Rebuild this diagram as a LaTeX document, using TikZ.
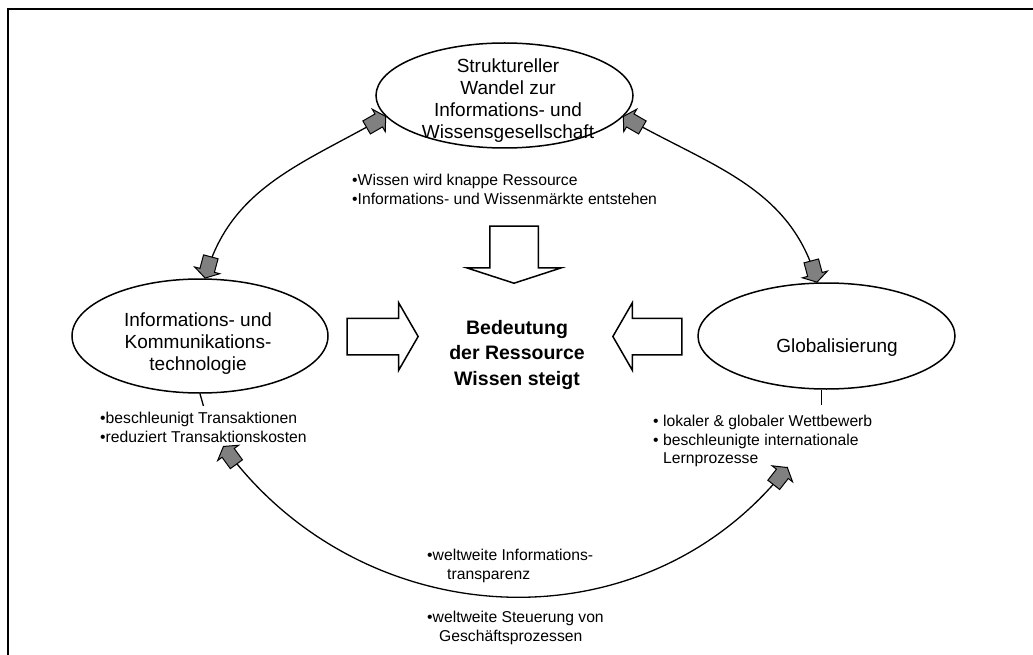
\documentclass[tikz,border=0pt]{standalone}
\usepackage{fontspec}
\setmainfont{Liberation Sans}
\usetikzlibrary{shapes.geometric,shapes.arrows,decorations.markings}
\definecolor{headgray}{gray}{0.5}

% small grey block arrow head, drawn along the path
\newcommand\grayhead{\filldraw[fill=headgray,draw=black,line width=1pt,line join=miter]
  (-22,-7.5) -- (-8,-7.5) -- (-8,-13) -- (0,0) -- (-8,13) -- (-8,7.5) -- (-22,7.5) -- cycle;}

\begin{document}
\begin{tikzpicture}[x=1pt,y=1pt,
 ell/.style={draw,ellipse,line width=1.5pt,inner sep=0pt},
 elltxt/.style={align=center,inner sep=0pt,font=\fontsize{19}{21.7}\selectfont},
 note/.style={align=left,inner sep=0pt,anchor=north west,font=\fontsize{15.7}{18.5}\selectfont},
 bigarrow/.style={draw,single arrow,line width=1.5pt,inner xsep=0pt,anchor=tip},
 link/.style={line width=1.3pt,postaction={decorate},decoration={markings,
   mark=at position 0 with {\begin{scope}[xscale=-1]\grayhead\end{scope}},
   mark=at position 0.999 with {\grayhead}}},
 tick/.style={line width=1.3pt}]
\useasboundingbox (0,0) rectangle (1033,-655);
\draw[line width=2pt] (8,-655) -- (8,-9) -- (1033,-9);

% the three fields
\node[ell,minimum width=257pt,minimum height=105pt] (struct) at (504.5,-95.5) {};
\node[elltxt,anchor=north] (structtxt) at (508,-59) {Struktureller\\Wandel zur\\Informations- und\\Wissensgesellschaft};
\node[ell,minimum width=256pt,minimum height=114pt] (ict) at (200,-336) {};
\node[elltxt,anchor=north] (icttxt) at (198,-313) {Informations- und\\Kommunikations-\\technologie};
\node[ell,minimum width=257pt,minimum height=106pt] (glob) at (826.5,-336) {};
\node[elltxt,anchor=north] (globtxt) at (837,-339) {Globalisierung};

% notes
\node[note] (topnote) at (352,-174) {•Wissen wird knappe Ressource\\•Informations- und Wissenmärkte entstehen};
\node[note] (ictnote) at (100,-412) {•beschleunigt Transaktionen\\•reduziert Transaktionskosten};
\node[note] (globnote) at (653,-415) {• lokaler \& globaler Wettbewerb\\• beschleunigte internationale\\\hspace*{10pt}Lernprozesse};
\node[note] (transnote) at (427,-549) {•weltweite Informations-\\\hspace*{20pt}transparenz};
\node[note] (steernote) at (427,-611) {•weltweite Steuerung von\\\hspace*{12pt}Geschäftsprozessen};

% centre
\node[align=center,inner sep=0pt,anchor=north,font=\fontsize{19.5}{25.5}\selectfont\bfseries] (core) at (517,-320) {Bedeutung\\der Ressource\\Wissen steigt};
\node[bigarrow,rotate=-90,minimum height=57pt,inner ysep=23.5pt,single arrow head extend=23pt,single arrow tip angle=144] (arrdown) at (514,-284) {};
\node[bigarrow,minimum height=71pt,inner ysep=17.5pt,single arrow head extend=15.5pt,single arrow tip angle=120] (arrright) at (419,-336.5) {};
\node[bigarrow,rotate=180,minimum height=69pt,inner ysep=17.5pt,single arrow head extend=15.5pt,single arrow tip angle=120] (arrleft) at (612,-336.5) {};

% links
\draw[link] (struct.190) to[out=210,in=75] (ict.85);
\draw[link] (struct.-10) to[out=-30,in=105] (glob.100);
\draw[link] ([xshift=20pt,yshift=-4pt]ictnote.south) to[out=-54,in=232,looseness=1.06] ([xshift=25pt]globnote.south);
\draw[tick] (ict.south) -- ([yshift=6pt]ictnote.north);
\draw[tick] (glob.265) -- ([yshift=10pt]globnote.north -| glob.265);
\end{tikzpicture}
\end{document}
